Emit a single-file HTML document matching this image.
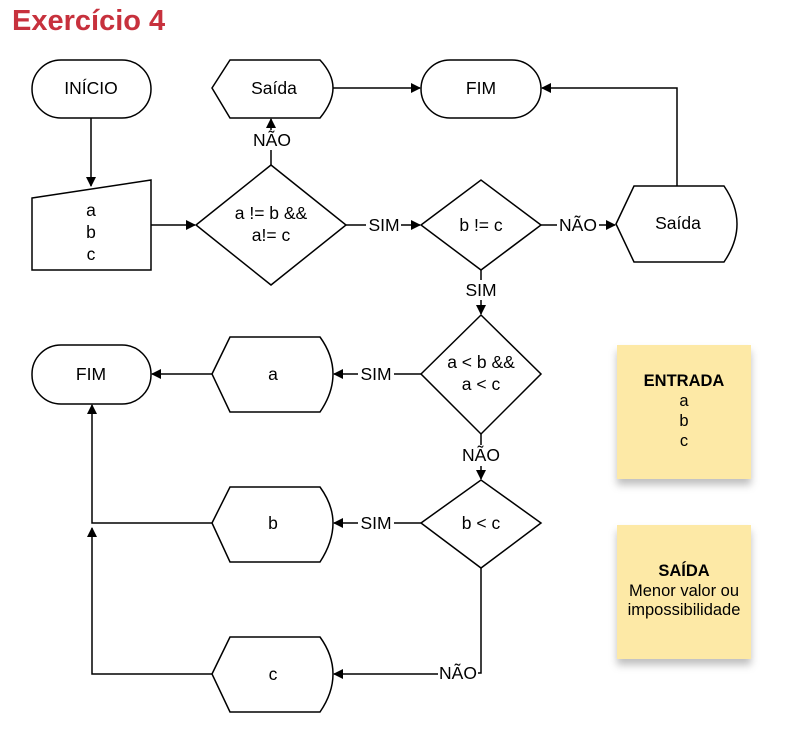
<!DOCTYPE html>
<html><head><meta charset="utf-8"><style>
html,body{margin:0;padding:0;background:#fff;}
svg{display:block;font-family:"Liberation Sans",Arial,sans-serif;}
</style></head><body>
<svg width="791" height="740" viewBox="0 0 791 740" xmlns="http://www.w3.org/2000/svg">
<defs>
<marker id="ar" markerWidth="10" markerHeight="10" refX="9" refY="5" orient="auto" markerUnits="userSpaceOnUse">
<path d="M0,0 L10,5 L0,10 z" fill="#000"/></marker>
<filter id="sh" x="-20%" y="-20%" width="140%" height="150%"><feDropShadow dx="0" dy="6" stdDeviation="4" flood-color="#000" flood-opacity="0.25"/></filter>
</defs>
<text x="12" y="30" font-size="29" font-weight="bold" fill="#c7313d">Exercício 4</text>
<g fill="none" stroke="#000" stroke-width="1.5">
<rect x="32" y="60" width="119" height="58" rx="29" fill="#fff"/>
<line x1="91" y1="118" x2="91" y2="186" marker-end="url(#ar)"/>
<polygon points="32,198 151,180 151,270 32,270" fill="#fff"/>
<line x1="151" y1="225" x2="195" y2="225" marker-end="url(#ar)"/>
<polygon points="196,225 271,165 346,225 271,285" fill="#fff"/>
<line x1="271" y1="165" x2="271" y2="150"/>
<line x1="271" y1="130" x2="271" y2="119" marker-end="url(#ar)"/>
<path d="M212,88 L230,60 L320,60 Q333,74 333,88 Q333,102 320,118 L230,118 Z" fill="#fff"/>
<line x1="333" y1="88" x2="420" y2="88" marker-end="url(#ar)"/>
<rect x="421" y="60" width="120" height="58" rx="29" fill="#fff"/>
<line x1="346" y1="225" x2="366" y2="225"/>
<line x1="401" y1="225" x2="420" y2="225" marker-end="url(#ar)"/>
<polygon points="421,225 481,180 541,225 481,270" fill="#fff"/>
<line x1="541" y1="225" x2="557" y2="225"/>
<line x1="599" y1="225" x2="615" y2="225" marker-end="url(#ar)"/>
<path d="M616,224 L634,186 L724,186 Q737,205 737,224 Q737,243 724,262 L634,262 Z" fill="#fff"/>
<polyline points="677,186 677,88 542,88" marker-end="url(#ar)"/>
<line x1="481" y1="270" x2="481" y2="280"/>
<line x1="481" y1="300" x2="481" y2="314" marker-end="url(#ar)"/>
<polygon points="421,374 481,315 541,374 481,434" fill="#fff"/>
<line x1="421" y1="374" x2="394" y2="374"/>
<line x1="358" y1="374" x2="334" y2="374" marker-end="url(#ar)"/>
<path d="M212,374 L230,337 L320,337 Q333,355 333,374 Q333,393 320,412 L230,412 Z" fill="#fff"/>
<line x1="212" y1="374" x2="152" y2="374" marker-end="url(#ar)"/>
<rect x="32" y="345" width="119" height="59" rx="29" fill="#fff"/>
<line x1="481" y1="434" x2="481" y2="445"/>
<line x1="481" y1="466" x2="481" y2="479" marker-end="url(#ar)"/>
<polygon points="421,523 481,480 541,523 481,568" fill="#fff"/>
<line x1="421" y1="523" x2="394" y2="523"/>
<line x1="358" y1="523" x2="334" y2="523" marker-end="url(#ar)"/>
<path d="M212,523 L230,487 L320,487 Q333,505 333,523 Q333,542 320,562 L230,562 Z" fill="#fff"/>
<polyline points="212,523 92,523 92,405" marker-end="url(#ar)"/>
<polyline points="481,568 481,673 478,673"/>
<line x1="438" y1="674" x2="334" y2="674" marker-end="url(#ar)"/>
<path d="M212,674 L230,637 L320,637 Q333,655 333,674 Q333,693 320,712 L230,712 Z" fill="#fff"/>
<polyline points="212,674 92,674 92,528" marker-end="url(#ar)"/>
</g>
<g font-size="17.5" text-anchor="middle" fill="#000">
<text x="91" y="94">INÍCIO</text>
<text x="91" y="216">a</text><text x="91" y="238">b</text><text x="91" y="260">c</text>
<text x="271" y="219">a != b &amp;&amp;</text><text x="271" y="241">a!= c</text>
<text x="272" y="146">NÃO</text>
<text x="274" y="94">Saída</text>
<text x="481" y="94">FIM</text>
<text x="384" y="231">SIM</text>
<text x="481" y="231">b != c</text>
<text x="578" y="231">NÃO</text>
<text x="678" y="229">Saída</text>
<text x="481" y="296">SIM</text>
<text x="481" y="368">a &lt; b &amp;&amp;</text><text x="481" y="390">a &lt; c</text>
<text x="376" y="380">SIM</text>
<text x="273" y="380">a</text>
<text x="91" y="380">FIM</text>
<text x="481" y="461">NÃO</text>
<text x="481" y="529">b &lt; c</text>
<text x="376" y="529">SIM</text>
<text x="273" y="529">b</text>
<text x="458" y="679">NÃO</text>
<text x="273" y="680">c</text>
</g>
<rect x="617" y="345" width="134" height="134" fill="#fde9a6" filter="url(#sh)"/>
<rect x="617" y="525" width="134" height="134" fill="#fde9a6" filter="url(#sh)"/>
<g font-size="16.5" text-anchor="middle" fill="#000">
<text x="684" y="386" font-weight="bold">ENTRADA</text>
<text x="684" y="406">a</text><text x="684" y="426">b</text><text x="684" y="446">c</text>
<text x="684" y="576" font-weight="bold">SAÍDA</text>
<text x="684" y="596">Menor valor ou</text>
<text x="684" y="615">impossibilidade</text>
</g>
</svg>
</body></html>
